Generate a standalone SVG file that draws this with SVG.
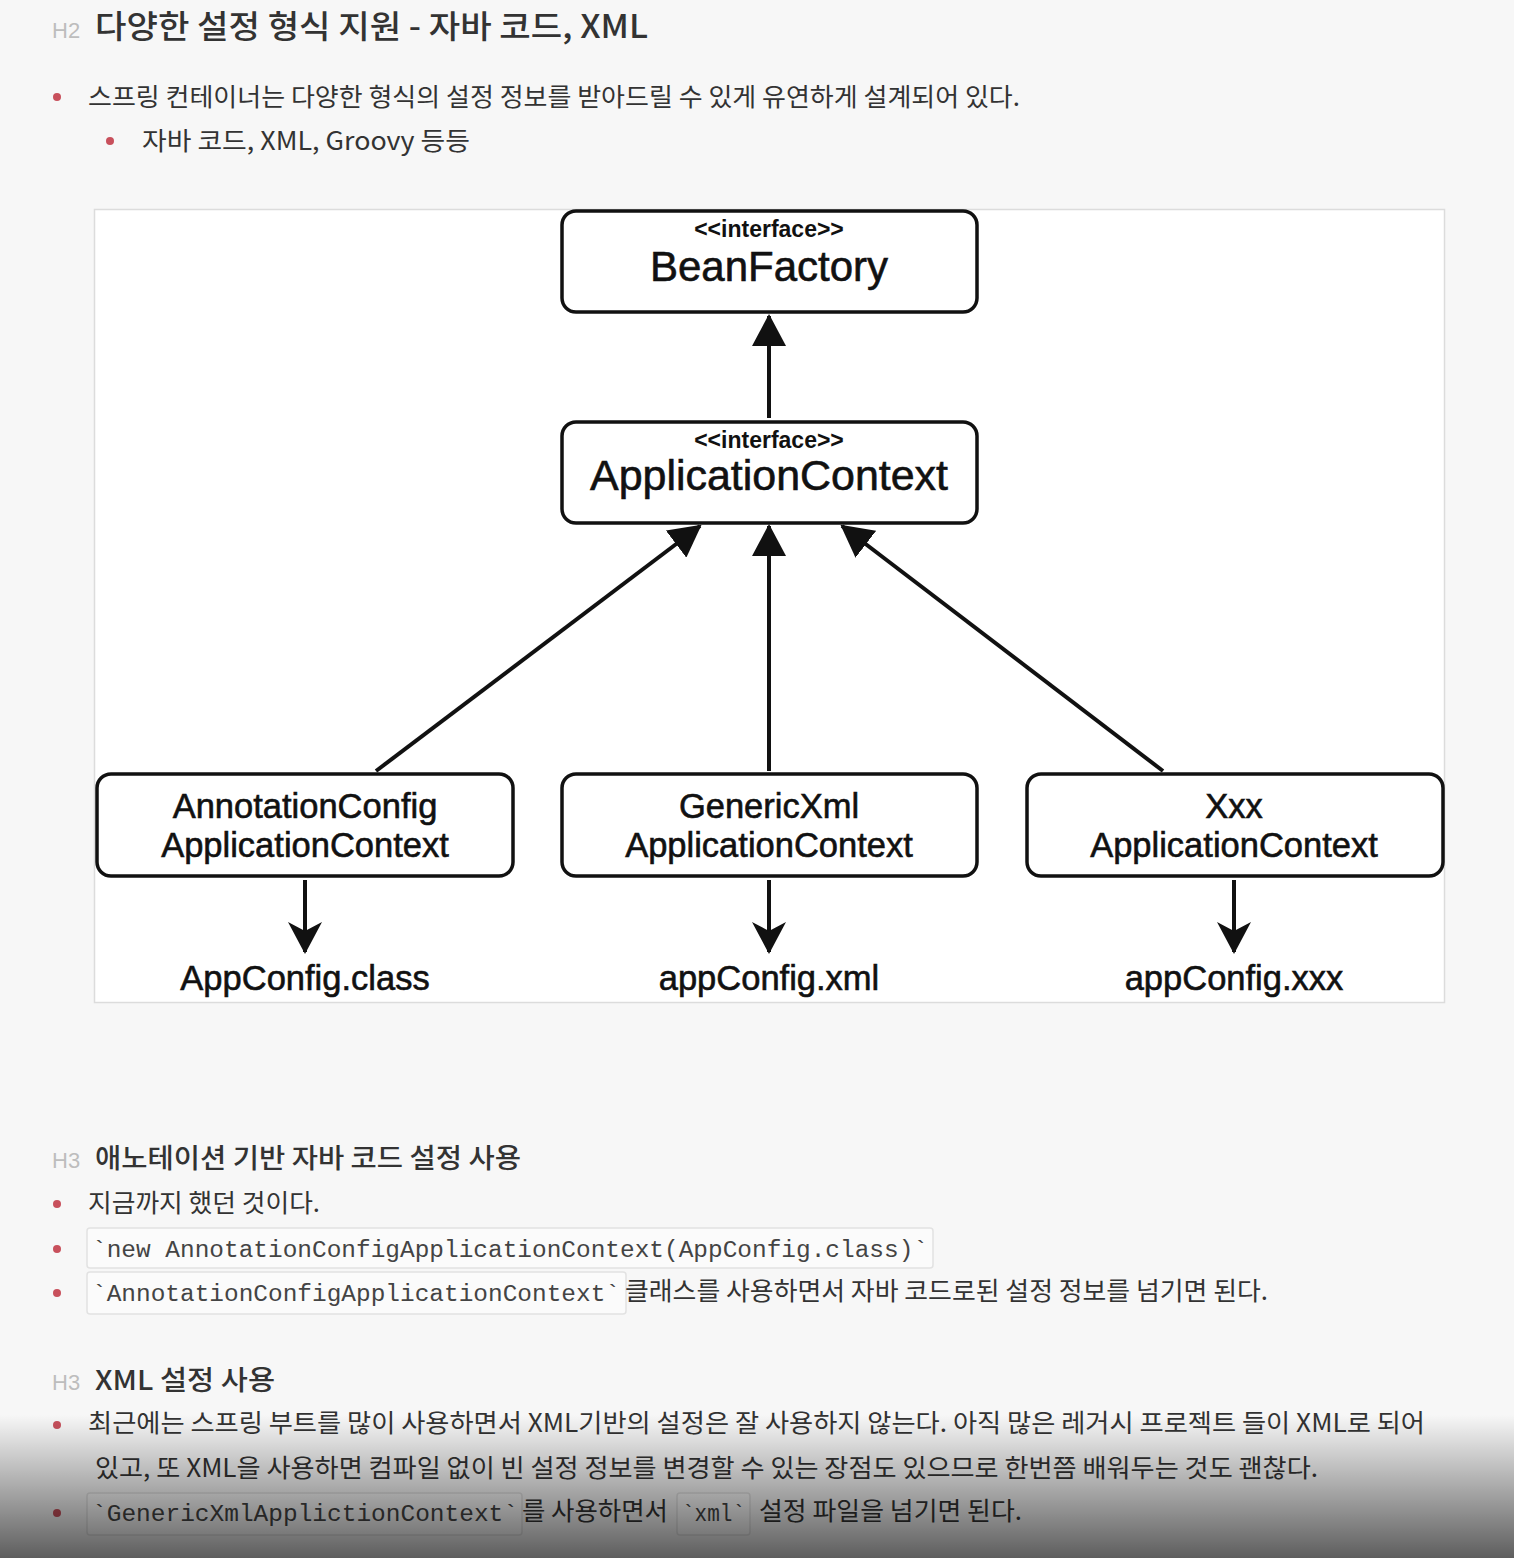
<svg xmlns="http://www.w3.org/2000/svg" width="1514" height="1558" viewBox="0 0 1514 1558">
<style>
.kr{font-family:"Noto Sans CJK KR","Liberation Sans",sans-serif;fill:#333}
.hl{font-family:"Liberation Sans",Arial,sans-serif;fill:#bdbdbd;font-size:22px}
.h2{font-size:32px;font-weight:500}
.h3{font-size:27px;font-weight:500}
.body{font-size:25px}
.mono{font-family:"Liberation Mono","DejaVu Sans Mono",monospace;font-size:23px;fill:#444}
.code{fill:#fbfbfb;stroke:#e2e2e2;stroke-width:1.5}
.dot{fill:#c8505c}
.box{fill:#fff;stroke:#111;stroke-width:3.5}
.dg{font-family:"Liberation Sans",Arial,sans-serif;fill:#111;text-anchor:middle;stroke:#111;stroke-width:0.6}
.stereo{font-size:23px;font-weight:bold;stroke-width:0}
.big{font-size:42px}
.mid{font-size:34.5px}
.edge{stroke:#111;stroke-width:4;fill:none}
</style>
<defs>
<marker id="tri" viewBox="0 0 32 34" refX="30" refY="17" markerWidth="32" markerHeight="34" markerUnits="userSpaceOnUse" orient="auto">
<path d="M0,0 L32,17 L0,34 z" fill="#111"/>
</marker>
<marker id="barb" viewBox="0 0 32 34" refX="30" refY="17" markerWidth="32" markerHeight="34" markerUnits="userSpaceOnUse" orient="auto">
<path d="M0,0 L32,17 L0,34 L9,17 z" fill="#111"/>
</marker>
<linearGradient id="shade" x1="0" y1="0" x2="0" y2="1">
<stop offset="0" stop-color="#000" stop-opacity="0"/>
<stop offset="1" stop-color="#000" stop-opacity="0.62"/>
</linearGradient>
</defs>
<rect x="0" y="0" width="1514" height="1558" fill="#f7f7f7"/>

<g id="header">
<text class="hl" x="52" y="38">H2</text>
<text class="kr h2" x="95" y="38" textLength="553" lengthAdjust="spacingAndGlyphs">다양한 설정 형식 지원 - 자바 코드, XML</text>
<circle class="dot" cx="57" cy="97" r="4"/>
<text class="kr body" x="88" y="106" textLength="932" lengthAdjust="spacingAndGlyphs">스프링 컨테이너는 다양한 형식의 설정 정보를 받아드릴 수 있게 유연하게 설계되어 있다.</text>
<circle class="dot" cx="110" cy="141" r="4"/>
<text class="kr body" x="142" y="150" textLength="328" lengthAdjust="spacingAndGlyphs">자바 코드, XML, Groovy 등등</text>
</g>

<rect x="94.500" y="209.500" width="1350" height="793" fill="#fff" stroke="#dcdcdc" stroke-width="1.5"/>

<g id="connectors">
<line class="edge" x1="769" y1="418" x2="769" y2="316" marker-end="url(#tri)"/>
<line class="edge" x1="376" y1="771" x2="700" y2="526" marker-end="url(#tri)"/>
<line class="edge" x1="769" y1="771" x2="769" y2="526" marker-end="url(#tri)"/>
<line class="edge" x1="1163" y1="771" x2="842" y2="526" marker-end="url(#tri)"/>
<line class="edge" x1="305" y1="880" x2="305" y2="952" marker-end="url(#barb)"/>
<line class="edge" x1="769" y1="880" x2="769" y2="952" marker-end="url(#barb)"/>
<line class="edge" x1="1234" y1="880" x2="1234" y2="952" marker-end="url(#barb)"/>
</g>

<g id="beanfactory">
<rect class="box" x="562" y="211" width="415" height="101" rx="14"/>
<text class="dg stereo" x="769" y="237">&lt;&lt;interface&gt;&gt;</text>
<text class="dg big" x="769" y="281">BeanFactory</text>
</g>
<g id="applicationcontext">
<rect class="box" x="562" y="422" width="415" height="101" rx="14"/>
<text class="dg stereo" x="769" y="448">&lt;&lt;interface&gt;&gt;</text>
<text class="dg big" x="769" y="490" textLength="358" lengthAdjust="spacingAndGlyphs">ApplicationContext</text>
</g>
<g id="annotationconfig">
<rect class="box" x="97" y="774" width="416" height="102" rx="14"/>
<text class="dg mid" x="305" y="818">AnnotationConfig</text>
<text class="dg mid" x="305" y="857">ApplicationContext</text>
</g>
<g id="genericxml">
<rect class="box" x="562" y="774" width="415" height="102" rx="14"/>
<text class="dg mid" x="769" y="818">GenericXml</text>
<text class="dg mid" x="769" y="857">ApplicationContext</text>
</g>
<g id="xxx">
<rect class="box" x="1027" y="774" width="416" height="102" rx="14"/>
<text class="dg mid" x="1234" y="818">Xxx</text>
<text class="dg mid" x="1234" y="857">ApplicationContext</text>
</g>
<g id="appconfig-class"><text class="dg mid" x="305" y="990">AppConfig.class</text></g>
<g id="appconfig-xml"><text class="dg mid" x="769" y="990">appConfig.xml</text></g>
<g id="appconfig-xxx"><text class="dg mid" x="1234" y="990">appConfig.xxx</text></g>

<g id="section-annotation">
<text class="hl" x="52" y="1168">H3</text>
<text class="kr h3" x="95" y="1168" textLength="426" lengthAdjust="spacingAndGlyphs">애노테이션 기반 자바 코드 설정 사용</text>
<circle class="dot" cx="57" cy="1204" r="4"/>
<text class="kr body" x="88" y="1212" textLength="232" lengthAdjust="spacingAndGlyphs">지금까지 했던 것이다.</text>
<circle class="dot" cx="57" cy="1249" r="4"/>
<rect class="code" x="87" y="1228" width="846" height="40" rx="3"/>
<text class="mono" x="92" y="1257" textLength="836" lengthAdjust="spacingAndGlyphs">`new AnnotationConfigApplicationContext(AppConfig.class)`</text>
<circle class="dot" cx="57" cy="1293" r="4"/>
<rect class="code" x="87" y="1272" width="539" height="42" rx="3"/>
<text class="mono" x="92" y="1301" textLength="528" lengthAdjust="spacingAndGlyphs">`AnnotationConfigApplicationContext`</text>
<text class="kr body" x="625" y="1300" textLength="643" lengthAdjust="spacingAndGlyphs">클래스를 사용하면서 자바 코드로된 설정 정보를 넘기면 된다.</text>
</g>

<g id="section-xml">
<text class="hl" x="52" y="1390">H3</text>
<text class="kr h3" x="95" y="1390" textLength="180" lengthAdjust="spacingAndGlyphs">XML 설정 사용</text>
<circle class="dot" cx="57" cy="1425" r="4"/>
<text class="kr body" x="88" y="1432" textLength="1337" lengthAdjust="spacingAndGlyphs">최근에는 스프링 부트를 많이 사용하면서 XML기반의 설정은 잘 사용하지 않는다. 아직 많은 레거시 프로젝트 들이 XML로 되어</text>
<text class="kr body" x="95" y="1477" textLength="1223" lengthAdjust="spacingAndGlyphs">있고, 또 XML을 사용하면 컴파일 없이 빈 설정 정보를 변경할 수 있는 장점도 있으므로 한번쯤 배워두는 것도 괜찮다.</text>
<circle class="dot" cx="57" cy="1513" r="4"/>
<rect class="code" x="87" y="1493" width="435" height="42" rx="3"/>
<text class="mono" x="92" y="1521" textLength="426" lengthAdjust="spacingAndGlyphs">`GenericXmlApplictionContext`</text>
<text class="kr body" x="522" y="1520" textLength="146" lengthAdjust="spacingAndGlyphs">를 사용하면서</text>
<rect class="code" x="677" y="1493" width="73" height="42" rx="3"/>
<text class="mono" x="682" y="1521" textLength="63" lengthAdjust="spacingAndGlyphs">`xml`</text>
<text class="kr body" x="759" y="1520" textLength="263" lengthAdjust="spacingAndGlyphs">설정 파일을 넘기면 된다.</text>
</g>

<rect x="0" y="1415" width="1514" height="143" fill="url(#shade)"/>
</svg>
